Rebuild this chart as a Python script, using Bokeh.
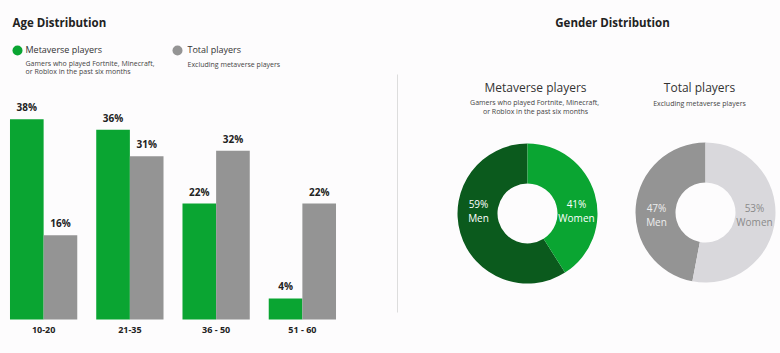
import numpy as np
from bokeh.plotting import figure
from bokeh.layouts import row
from bokeh.models import ColumnDataSource, Label, Range1d, FactorRange
from bokeh.transform import dodge
from bokeh.core.properties import value
from bokeh.embed import file_html
from bokeh.resources import INLINE

# ---- data ----
age_groups = ["10-20", "21-35", "36 - 50", "51 - 60"]
metaverse_age = [38, 36, 22, 4]
total_age = [16, 31, 32, 22]

gender_labels = ["Men", "Women"]
metaverse_gender = [59, 41]
total_gender = [47, 53]

FONT = "Open Sans"
BG = "#fdfcfd"
GREEN = "#0aa532"
DARK_GREEN = "#0b5a1d"
GRAY = "#949494"
LIGHT_GRAY = "#d9d8dc"
TXT = "#222222"

H = 353
LW = 345
PX_PER_PCT = 5.27
BASE_FROM_BOTTOM = 34

# ---- left: age distribution ----
left = figure(width=LW, height=H, x_range=FactorRange(*age_groups, range_padding=0),
              y_range=Range1d(-BASE_FROM_BOTTOM / PX_PER_PCT, (H - BASE_FROM_BOTTOM) / PX_PER_PCT),
              output_backend="svg", toolbar_location=None,
              min_border=0, min_border_left=0, min_border_right=0,
              min_border_top=0, min_border_bottom=0)
left.axis.visible = False
left.grid.visible = False
left.outline_line_color = None
left.background_fill_color = BG
left.border_fill_color = BG

src = ColumnDataSource(dict(
    cat=age_groups,
    meta=metaverse_age,
    total=total_age,
    meta_lbl=[f"{v}%" for v in metaverse_age],
    total_lbl=[f"{v}%" for v in total_age],
    zero=[0] * len(age_groups),
))
W = 0.39
left.vbar(x=dodge("cat", -W / 2, range=left.x_range), top="meta", width=W, source=src,
          fill_color=GREEN, line_color=None)
left.vbar(x=dodge("cat", W / 2, range=left.x_range), top="total", width=W, source=src,
          fill_color=GRAY, line_color=None)
left.text(x=dodge("cat", -W / 2, range=left.x_range), y="meta", text="meta_lbl", source=src,
          text_align="center", text_baseline="bottom", y_offset=-5,
          text_font=value(FONT), text_font_size="10px", text_font_style="bold", text_color=TXT)
left.text(x=dodge("cat", W / 2, range=left.x_range), y="total", text="total_lbl", source=src,
          text_align="center", text_baseline="bottom", y_offset=-5,
          text_font=value(FONT), text_font_size="10px", text_font_style="bold", text_color=TXT)
left.text(x="cat", y="zero", text="cat", source=src, text_align="center", text_baseline="middle",
          y_offset=10, text_font=value(FONT), text_font_size="9px", text_font_style="bold",
          text_color=TXT)


def lab(p, x, y_top, text, size, bold=False, color=TXT, align="left"):
    p.add_layout(Label(x=x, y=H - y_top, x_units="screen", y_units="screen", text=text,
                       text_font=FONT, text_font_size=size,
                       text_font_style="bold" if bold else "normal",
                       text_color=color, text_align=align, text_baseline="middle"))


lab(left, 12, 22, "Age Distribution", "11.5px", bold=True)
lab(left, 25, 49, "Metaverse players", "9px", color="#333333")
lab(left, 25, 63, "Gamers who played  Fortnite, Minecraft,", "7px", color="#444444")
lab(left, 25, 71, "or Roblox in the past six months", "7px", color="#444444")
lab(left, 187, 49, "Total players", "9px", color="#333333")
lab(left, 187, 64, "Excluding metaverse players", "7px", color="#444444")

# legend dots (pixel positions converted to the plot's synthetic coordinates)
px_per_cat = LW / len(age_groups)
dot_y = (H - 50 - BASE_FROM_BOTTOM) / PX_PER_PCT
left.scatter(x=[17 / px_per_cat, 177 / px_per_cat], y=[dot_y, dot_y], size=10, marker="circle",
             fill_color=[GREEN, GRAY], line_color=None)

# ---- right: gender distribution ----
right = figure(width=435, height=H, x_range=Range1d(0, 435), y_range=Range1d(0, H),
               output_backend="svg", toolbar_location=None,
               min_border=0, min_border_left=0, min_border_right=0,
               min_border_top=0, min_border_bottom=0)
right.axis.visible = False
right.grid.visible = False
right.outline_line_color = None
right.background_fill_color = BG
right.border_fill_color = BG

right.segment(x0=[52], y0=[H - 74], x1=[52], y1=[H - 312], line_color="#dddddd", line_width=1)

lab(right, 267, 22, "Gender Distribution", "11.5px", bold=True, align="center")
lab(right, 190, 87, "Metaverse players", "12px", color="#333333", align="center")
lab(right, 190, 102, "Gamers who played  Fortnite, Minecraft,", "7px", color="#444444", align="center")
lab(right, 190, 111, "or Roblox in the past six months", "7px", color="#444444", align="center")
lab(right, 354, 87, "Total players", "12px", color="#333333", align="center")
lab(right, 354, 103, "Excluding metaverse players", "7px", color="#444444", align="center")


def donut(p, cx, cy, vals, colors, txt_colors, dy):
    vals = np.array(vals, dtype=float)
    frac = vals / vals.sum()
    # Men: counter-clockwise from top; Women: clockwise from top
    men_end = np.pi / 2 + frac[0] * 2 * np.pi
    women_start = np.pi / 2 - frac[1] * 2 * np.pi
    p.annular_wedge(x=[cx, cx], y=[cy, cy], inner_radius=30, outer_radius=70,
                    start_angle=[np.pi / 2, women_start], end_angle=[men_end, np.pi / 2],
                    fill_color=colors, line_color=None)
    ds = ColumnDataSource(dict(
        x=[cx - 49, cx - 49, cx + 49, cx + 49],
        y=[cy + dy, cy + dy - 14, cy + dy, cy + dy - 14],
        t=[f"{int(vals[0])}%", gender_labels[0], f"{int(vals[1])}%", gender_labels[1]],
        c=[txt_colors[0], txt_colors[0], txt_colors[1], txt_colors[1]],
    ))
    p.text(x="x", y="y", text="t", text_color="c", source=ds, text_align="center",
           text_baseline="middle", text_font=value(FONT), text_font_size="10px")


donut(right, 182, H - 213, metaverse_gender, [DARK_GREEN, GREEN], ["#ffffff", "#ffffff"], 10)
donut(right, 360, H - 212, total_gender, [GRAY, LIGHT_GRAY], ["#eeeeee", "#8a8a8a"], 5)

layout = row(left, right, spacing=0)
layout.styles = {"background-color": BG}
open("out.html", "w").write(file_html(layout, INLINE))
